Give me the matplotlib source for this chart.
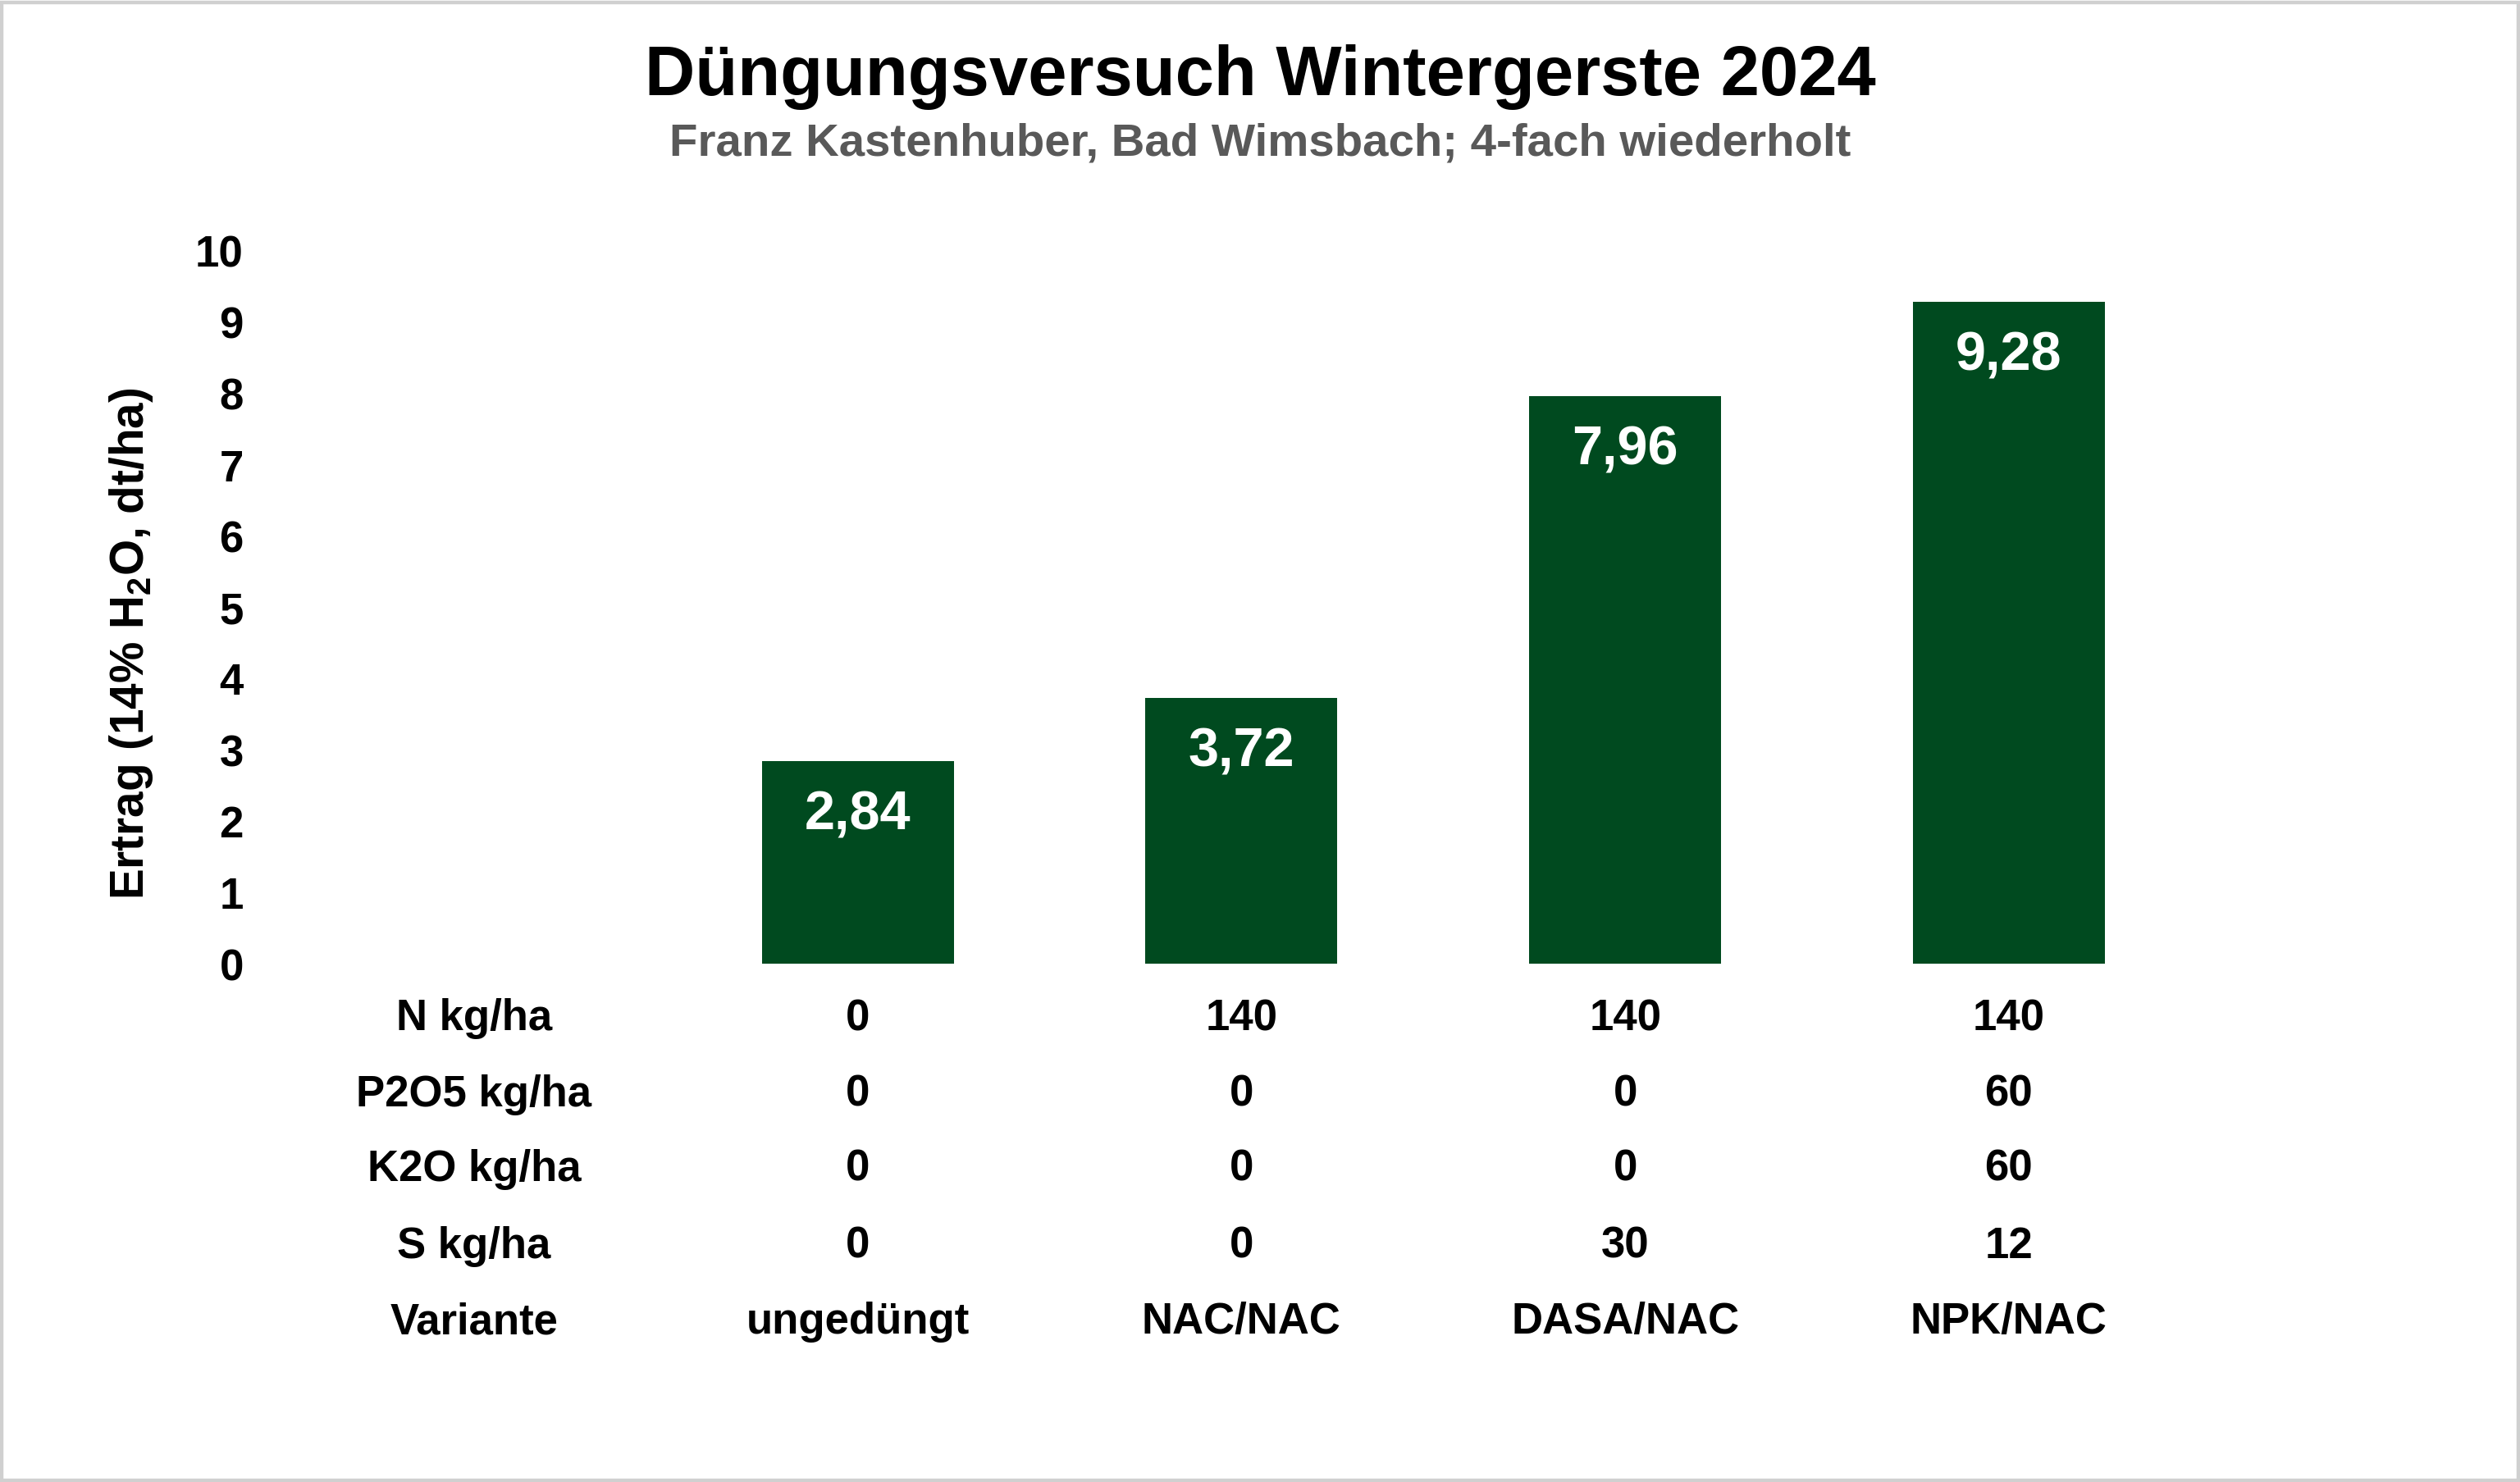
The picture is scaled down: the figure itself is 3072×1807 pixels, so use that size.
import matplotlib
matplotlib.use("Agg")
import matplotlib.pyplot as plt
import matplotlib.transforms as mtransforms
from matplotlib.patches import Rectangle

# ---- data ----
varianten = ["ungedüngt", "NAC/NAC", "DASA/NAC", "NPK/NAC"]
ertrag = [2.84, 3.72, 7.96, 9.28]
row_labels = ["N kg/ha", "P2O5 kg/ha", "K2O kg/ha", "S kg/ha", "Variante"]
n_vals = ["0", "140", "140", "140"]
p_vals = ["0", "0", "0", "60"]
k_vals = ["0", "0", "0", "60"]
s_vals = ["0", "0", "30", "12"]
yticks = list(range(0, 11))

title = "Düngungsversuch Wintergerste 2024"
subtitle = "Franz Kastenhuber, Bad Wimsbach; 4-fach wiederholt"

plt.rcParams['font.family'] = ['Liberation Sans', 'DejaVu Sans']
plt.rcParams['font.weight'] = 'bold'
plt.rcParams['mathtext.fontset'] = 'custom'
plt.rcParams['mathtext.rm'] = 'Liberation Sans:bold'
plt.rcParams['mathtext.bf'] = 'Liberation Sans:bold'
plt.rcParams['mathtext.default'] = 'bf'

BAR = "#004A1F"

fig = plt.figure(figsize=(15.36, 9.04), dpi=200)
fig.patch.set_facecolor("white")
ax = fig.add_axes([0.112, 0.3498, 0.7613, 0.4807])

x = list(range(1, len(varianten) + 1))
bars = ax.bar(x, ertrag, width=0.5, color=BAR, zorder=2)
ax.set_xlim(-0.5, 4.5)
ax.set_ylim(0, 10)
ax.set_yticks(yticks)
ax.set_yticklabels([str(t) for t in yticks], fontsize=19, fontweight='bold')
ax.tick_params(axis='y', length=0, pad=17)
ax.set_xticks([])
for s in ax.spines.values():
    s.set_visible(False)

for xi, v in zip(x, ertrag):
    ax.annotate(f"{v:.2f}".replace(".", ","), xy=(xi, v), xytext=(0, -23.5),
                textcoords='offset points', ha='center', va='center',
                color='white', fontsize=24, fontweight='bold')

# table below the chart
trans = mtransforms.blended_transform_factory(ax.transData, fig.transFigure)
rows = [n_vals, p_vals, k_vals, s_vals, varianten]
row_y = [0.3128, 0.2618, 0.2113, 0.1593, 0.1084]
for lab, vals, yy in zip(row_labels, rows, row_y):
    ax.text(0, yy, lab, transform=trans, ha='center', va='center',
            fontsize=19, fontweight='bold', color='black')
    for xi, val in zip(x, vals):
        ax.text(xi, yy, val, transform=trans, ha='center', va='center',
                fontsize=19, fontweight='bold', color='black')

fig.text(0.052, 0.566, r"Ertrag (14% H$_{2}$O, dt/ha)", rotation=90,
         ha='center', va='center', fontsize=20.4, fontweight='bold')

fig.text(0.5, 0.948, title, ha='center', va='center', fontsize=30.6,
         fontweight='bold', color='black')
fig.text(0.5, 0.903, subtitle, ha='center', va='center', fontsize=20.3,
         fontweight='bold', color='#595959')

fig.patches.append(Rectangle((0.0006, 0.001), 0.9988, 0.997, transform=fig.transFigure,
                             fill=False, edgecolor='#D0D0D0', linewidth=1.6))

fig.savefig("out.png", dpi=200, facecolor='white')
